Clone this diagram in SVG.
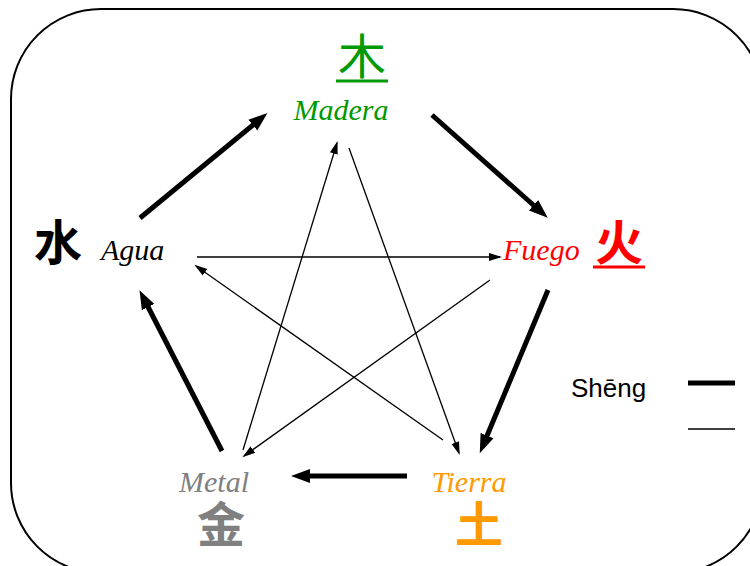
<svg xmlns="http://www.w3.org/2000/svg" width="750" height="566" viewBox="0 0 750 566">
<style>
.lat{font-family:"Liberation Serif",serif;font-style:italic;font-size:30px}
.cjk{font-family:"Noto Sans CJK SC",sans-serif;font-size:48px;text-anchor:middle}
.thick{stroke:#000;stroke-width:5;fill:none;marker-end:url(#hb)}
.thin{stroke:#000;stroke-width:1.3;fill:none;marker-end:url(#hs)}
</style>
<defs>
<marker id="hb" markerUnits="userSpaceOnUse" markerWidth="20" markerHeight="16" refX="8" refY="8" orient="auto" viewBox="0 0 20 16">
<path d="M0,1 L19,8 L0,15 z" fill="#000"/>
</marker>
<marker id="hs" markerUnits="userSpaceOnUse" markerWidth="14" markerHeight="10" refX="11" refY="5" orient="auto" viewBox="0 0 14 10">
<path d="M0,1 L13,5 L0,9 z" fill="#000"/>
</marker>
</defs>
<rect x="11" y="9" width="752" height="564" rx="90" ry="90" fill="#fff" stroke="#000" stroke-width="2"/>
<g id="connectors">
<line class="thick" x1="140" y1="218" x2="259" y2="120"/>
<line class="thick" x1="432" y1="115" x2="539.5" y2="210.5"/>
<line class="thick" x1="548" y1="290" x2="484" y2="443"/>
<line class="thick" x1="407" y1="476" x2="302" y2="476"/>
<line class="thick" x1="222" y1="451" x2="144.5" y2="300"/>
<line class="thin" x1="197" y1="257" x2="500" y2="257"/>
<line class="thin" x1="490" y1="280" x2="244" y2="456"/>
<line class="thin" x1="243" y1="450" x2="337" y2="143"/>
<line class="thin" x1="349" y1="148" x2="459" y2="453"/>
<line class="thin" x1="443" y1="440" x2="196" y2="266"/>
</g>
<g id="madera" fill="#009900">
<text class="cjk" x="362" y="74">木</text>
<rect x="336" y="79.5" width="52" height="3"/>
<text class="lat" x="341" y="120" text-anchor="middle">Madera</text>
</g>
<g id="fuego" fill="#ff0000">
<text class="lat" x="503" y="260">Fuego</text>
<text class="cjk" x="619" y="260" font-weight="bold">火</text>
<rect x="593" y="265.5" width="52" height="3"/>
</g>
<g id="tierra" fill="#ff9900">
<text class="lat" x="469" y="492" text-anchor="middle">Tierra</text>
<text class="cjk" x="479" y="542" font-size="46" font-weight="bold">土</text>
</g>
<g id="metal" fill="#808080">
<text class="lat" x="214" y="492" text-anchor="middle">Metal</text>
<text class="cjk" x="221" y="542" font-size="46" font-weight="bold">金</text>
</g>
<g id="agua" fill="#000">
<text class="cjk" x="58" y="260" font-weight="bold">水</text>
<text class="lat" x="101" y="260">Agua</text>
</g>
<g id="legend">
<text x="571" y="397" font-family="Liberation Sans,Arial,sans-serif" font-size="26">Shēng</text>
<line x1="688" y1="383" x2="735" y2="383" stroke="#000" stroke-width="5"/>
<line x1="688" y1="429" x2="735" y2="429" stroke="#000" stroke-width="1.5"/>
</g>
</svg>
